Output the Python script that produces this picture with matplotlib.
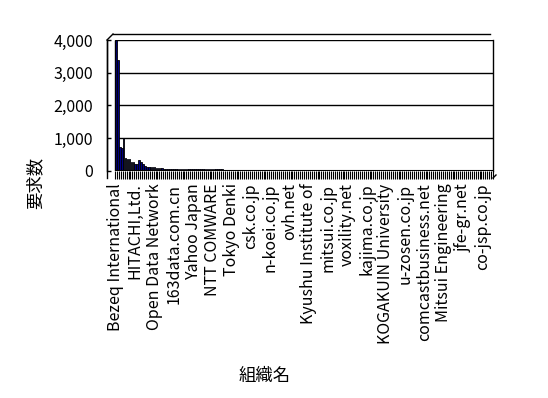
import matplotlib
matplotlib.use("Agg")
import matplotlib.pyplot as plt
from matplotlib.lines import Line2D

plt.rcParams['font.family'] = ['Noto Sans CJK JP', 'DejaVu Sans']

# ---- data ----
label_names = ["Bezeq International", "HITACHI,Ltd.", "Open Data Network", "163data.com.cn",
               "Yahoo Japan", "NTT COMWARE", "Tokyo Denki", "csk.co.jp", "n-koei.co.jp",
               "ovh.net", "Kyushu Institute of", "mitsui.co.jp", "voxility.net", "kajima.co.jp",
               "KOGAKUIN University", "u-zosen.co.jp", "comcastbusiness.net",
               "Mitsui Engineering", "jfe-gr.net", "co-jsp.co.jp"]
label_step = 10

head_values = [3990, 3380, 730, 700, 1000, 390, 370, 360, 290, 290,
               210, 220, 330, 270, 200, 140, 130, 130, 130, 130,
               130, 100, 100, 100, 100, 70, 70, 70, 70, 50,
               50, 50, 50, 50, 50, 50, 50, 50, 50, 50,
               50, 50, 50, 50, 50, 50, 50, 50, 50, 50,
               50, 50, 50, 50, 50, 50]
mid_values = [40, 40, 40, 40, 40, 40, 40, 40, 40, 40, 40, 40, 40, 40,
              30, 30, 30, 30, 30, 30, 30, 30, 30, 30, 30, 30, 30, 30, 30, 30, 30, 30, 30, 30,
              30, 30, 30, 30, 30, 30, 30, 30, 30, 30, 30, 30, 30, 30, 30, 30, 30, 30, 30, 30]
tail_values = [25, 25, 25, 25, 25, 25, 25, 25, 25, 25, 25, 25, 25, 25, 25, 25, 25, 25, 25, 25,
               25, 25, 25, 25, 25, 25, 25, 25, 25, 25, 25, 25, 25, 25, 25, 25, 25, 25, 25, 25,
               20, 20, 20, 20, 20, 20, 20, 20, 20, 20, 20, 20, 20, 20, 20, 20, 20, 20, 20, 20,
               20, 20, 20, 20, 20, 20, 20, 20, 20, 20, 20, 20, 20, 20, 20, 20, 20, 20, 20, 20,
               20, 20, 20, 20, 20, 20]
values = head_values + mid_values + tail_values

y_ticks = [0, 1000, 2000, 3000, 4000]
y_label = "要求数"
x_label = "組織名"

# ---- figure ----
W, H = 548, 398
fig = plt.figure(figsize=(W / 100, H / 100), dpi=100)
fig.patch.set_facecolor('white')

ax_left, ax_right, ax_top, ax_bottom = 107, 493, 40, 171
ax = fig.add_axes([ax_left / W, 1 - ax_bottom / H, (ax_right - ax_left) / W, (ax_bottom - ax_top) / H])

n = len(values)
side = 8 / ((ax_right - 115) / n)  # depth of side wall in bar units
x = list(range(n))
ax.bar(x, values, width=0.85, color='#000080', edgecolor='black', linewidth=0.6, zorder=3)

ax.set_xlim(-0.5 - side, n - 0.5)
ax.set_ylim(0, 4000)

# gridlines (drawn across the back plane only)
ax.hlines(y_ticks[1:], -0.5, n - 0.5, colors='black', linewidth=1.0, zorder=1)
ax.hlines([0], -0.5, n - 0.5, colors='black', linewidth=1.5, zorder=4)
ax.vlines([-0.5], 0, 4000, colors='black', linewidth=1.0, zorder=4)

for s in ['top', 'bottom']:
    ax.spines[s].set_visible(False)
ax.spines['left'].set_linewidth(1.0)
ax.spines['right'].set_linewidth(1.0)

ax.set_yticks(y_ticks)
ax.set_yticklabels([f"{v:,}" for v in y_ticks], fontsize=11.5)
ax.tick_params(axis='y', direction='in', length=3, width=1, pad=10)

# category boundary ticks
ax.set_xticks([i - 0.5 for i in range(n + 1)])
ax.set_xticklabels([])
ax.tick_params(axis='x', which='major', direction='out', length=6, width=0.8)
# labelled categories
ax.set_xticks([i for i in range(0, len(label_names) * label_step, label_step)], minor=True)
ax.set_xticklabels(label_names, minor=True, rotation=90, fontsize=11.5, va='top', ha='center')
ax.tick_params(axis='x', which='minor', length=0, pad=9)

# outer frame of the plot area (side wall / back)
frame_color = 'black'
fig.add_artist(Line2D([107 / W, 107 / W], [1 - 178 / H, 1 - 40 / H], transform=fig.transFigure, color=frame_color, lw=1))
fig.add_artist(Line2D([107 / W, 113 / W], [1 - 40 / H, 1 - 34 / H], transform=fig.transFigure, color=frame_color, lw=1))
fig.add_artist(Line2D([113 / W, 490 / W], [1 - 34 / H, 1 - 34 / H], transform=fig.transFigure, color=frame_color, lw=1))
fig.add_artist(Line2D([493 / W, 496 / W], [1 - 178 / H, 1 - 175 / H], transform=fig.transFigure, color=frame_color, lw=1))

fig.text(35 / W, 1 - 183 / H, y_label, rotation=90, ha='center', va='center', fontsize=12.5)
fig.text(265 / W, 1 - 376 / H, x_label, ha='center', va='center', fontsize=12.5)

fig.savefig("out.png", dpi=100)
